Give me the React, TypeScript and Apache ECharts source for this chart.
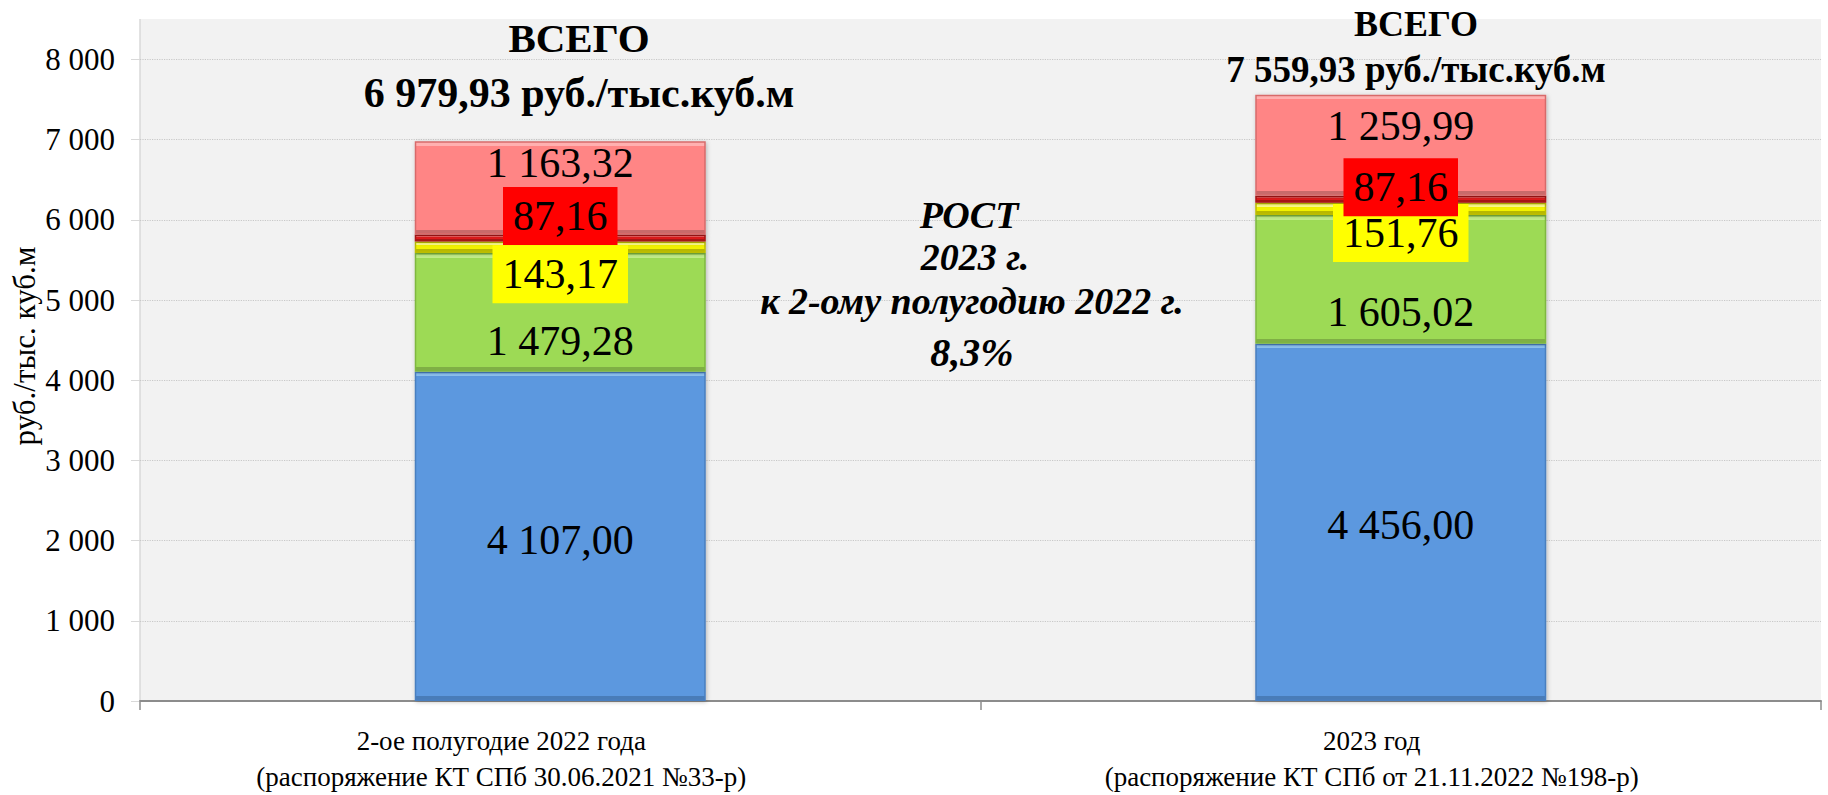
import React, { useEffect, useRef } from "react";
import * as echarts from "echarts";

// ---- data ----
const categories = [
  "2-ое полугодие 2022 года\n(распоряжение КТ СПб 30.06.2021 №33-р)",
  "2023 год\n(распоряжение КТ СПб от 21.11.2022 №198-р)",
];
const blueValues = [4107.0, 4456.0];
const greenValues = [1479.28, 1605.02];
const yellowValues = [143.17, 151.76];
const redValues = [87.16, 87.16];
const pinkValues = [1163.32, 1259.99];
const yMin = 0;
const yMax = 8000;
const yInterval = 1000;
const yAxisTitle = "руб./тыс. куб.м";
const totalWord = "ВСЕГО";
const unitText = "руб./тыс.куб.м";
const growthLines = ["РОСТ", "2023 г.", "к 2-ому полугодию 2022 г."];

// ---- helpers ----
const groupThousands = (s: string) => s.replace(/\B(?=(\d{3})+(?!\d))/g, " ");
const fmt2 = (v: number) => {
  const [i, d] = v.toFixed(2).split(".");
  return groupThousands(i) + "," + d;
};
const fmtInt = (v: number) => groupThousands(String(Math.round(v)));

const FONT = "Liberation Serif";

// layout constants
const GRID = { left: 140, right: 7, top: 59.5, bottom: 94 };
const PLOT_H = 795 - GRID.top - GRID.bottom;
const BEVEL_PX = 4;

// label vertical shifts (layout only), per bar
const labelShift: Record<string, number[]> = {
  blue: [4, 3],
  green: [29, 33],
  yellow: [27, 24],
  red: [-22, -12],
  pink: [-25, -19],
};
// horizontal shift of category labels (layout only): right padding = 2 * shift
const catPadRight = [118, 58];

export default function App() {
  const ref = useRef<HTMLDivElement>(null);

  useEffect(() => {
    if (!ref.current) return;
    const chart = echarts.init(ref.current, undefined, { renderer: "svg" });

    const totals = categories.map(
      (_, i) =>
        blueValues[i] + greenValues[i] + yellowValues[i] + redValues[i] + pinkValues[i]
    );
    const growth = (totals[1] / totals[0] - 1) * 100;
    const growthText = growth.toFixed(1).replace(".", ",") + "%";

    const bevelFill = (v: number, light: string, base: string, dark: string) => {
      const h = (v / (yMax - yMin)) * PLOT_H;
      const f = Math.min(0.3, BEVEL_PX / Math.max(h, 1));
      return new echarts.graphic.LinearGradient(0, 0, 0, 1, [
        { offset: 0, color: light },
        { offset: f, color: light },
        { offset: f, color: base },
        { offset: 1 - f, color: base },
        { offset: 1 - f, color: dark },
        { offset: 1, color: dark },
      ]);
    };

    const mkSeries = (
      name: string,
      key: string,
      values: number[],
      colors: [string, string, string],
      border: string,
      labelBg?: string
    ) => ({
      name,
      type: "bar",
      stack: "total",
      barWidth: 291,
      itemStyle: {
        color: colors[1],
        borderColor: border,
        borderWidth: 1.5,
        shadowBlur: 4,
        shadowColor: "rgba(0,0,0,0.25)",
        shadowOffsetX: 1,
        shadowOffsetY: 1,
      },
      label: {
        show: true,
        position: "inside",
        fontFamily: FONT,
        fontSize: 42,
        lineHeight: 42,
        color: "#000",
        formatter: (p: any) => fmt2(p.value),
        ...(labelBg ? { backgroundColor: labelBg, padding: [8, 10] } : {}),
      },
      data: values.map((v, i) => ({
        value: v,
        itemStyle: { color: bevelFill(v, colors[0], colors[1], colors[2]) },
        label: { offset: [0, labelShift[key][i]] },
      })),
    });

    const txt = (x: number, y: number, text: string, font: string) => ({
      type: "text",
      x,
      y,
      z: 100,
      style: {
        text,
        font,
        fill: "#000",
        textAlign: "center",
        verticalAlign: "middle",
      },
    });

    const rich: any = {};
    catPadRight.forEach((p, i) => {
      rich["c" + i] = {
        fontFamily: FONT,
        fontSize: 27,
        lineHeight: 36,
        color: "#000",
        padding: [0, p, 0, 0],
      };
    });

    chart.setOption({
      animation: false,
      backgroundColor: "#ffffff",
      grid: { ...GRID, containLabel: false },
      xAxis: {
        type: "category",
        data: categories,
        axisLine: { show: true, lineStyle: { color: "#8C8C8C", width: 2 } },
        axisTick: { show: true, length: 9, lineStyle: { color: "#8C8C8C", width: 1.5 } },
        axisLabel: {
          interval: 0,
          fontFamily: FONT,
          fontSize: 27,
          lineHeight: 36,
          color: "#000",
          margin: 22,
          formatter: (v: string, idx: number) =>
            v
              .split("\n")
              .map((l) => `{c${idx}|${l}}`)
              .join("\n"),
          rich,
        },
      },
      yAxis: {
        type: "value",
        min: yMin,
        max: yMax,
        interval: yInterval,
        axisLine: { show: false },
        axisTick: { show: true, length: 9, lineStyle: { color: "#D9D9D9" } },
        axisLabel: {
          fontFamily: FONT,
          fontSize: 31,
          color: "#000",
          margin: 25,
          formatter: (v: number) => fmtInt(v),
        },
        splitLine: { show: true, lineStyle: { color: "#C8C8C8", type: "dotted", width: 1.2 } },
      },
      graphic: [
        {
          type: "rect",
          z: -10,
          shape: { x: 140, y: 19, width: 1681, height: 682 },
          style: { fill: "#F2F2F2" },
          silent: true,
        },
        {
          type: "line",
          z: -5,
          shape: { x1: 140, y1: 19, x2: 140, y2: 701 },
          style: { stroke: "#D9D9D9", lineWidth: 1.5 },
          silent: true,
        },
        {
          type: "text",
          x: 24,
          y: 346,
          rotation: Math.PI / 2,
          style: {
            text: yAxisTitle,
            font: `31px ${FONT}`,
            fill: "#000",
            textAlign: "center",
            verticalAlign: "middle",
          },
        },
        txt(579, 38, totalWord, `bold 41px ${FONT}`),
        txt(579, 93, fmt2(totals[0]) + " " + unitText, `bold 42px ${FONT}`),
        txt(1416, 24, totalWord, `bold 36px ${FONT}`),
        txt(1416, 69, fmt2(totals[1]) + " " + unitText, `bold 37px ${FONT}`),
        txt(969, 215, growthLines[0], `italic bold 38px ${FONT}`),
        txt(975, 257, growthLines[1], `italic bold 38px ${FONT}`),
        txt(972, 301, growthLines[2], `italic bold 38px ${FONT}`),
        txt(972, 352, growthText, `italic bold 40px ${FONT}`),
      ],
      series: [
        mkSeries("Компонент 1", "blue", blueValues, ["#8EC3F2", "#5C98DF", "#4A7CB8"], "#4A7FC0"),
        mkSeries("Компонент 2", "green", greenValues, ["#C2EE8A", "#9DDA55", "#7FAF45"], "#7FB840"),
        mkSeries("Компонент 3", "yellow", yellowValues, ["#FFFF8A", "#F2F200", "#B8B800"], "#BDBD00", "#FFFF00"),
        mkSeries("Компонент 4", "red", redValues, ["#F06060", "#E01E1E", "#A81515"], "#A81515", "#FF0000"),
        mkSeries("Компонент 5", "pink", pinkValues, ["#FFB0B0", "#FF8585", "#C86A6A"], "#D86B6B"),
      ],
    });

    return () => chart.dispose();
  }, []);

  return (
    <div
      ref={ref}
      style={{ position: "fixed", left: 0, top: 0, width: 1828, height: 795 }}
    />
  );
}
